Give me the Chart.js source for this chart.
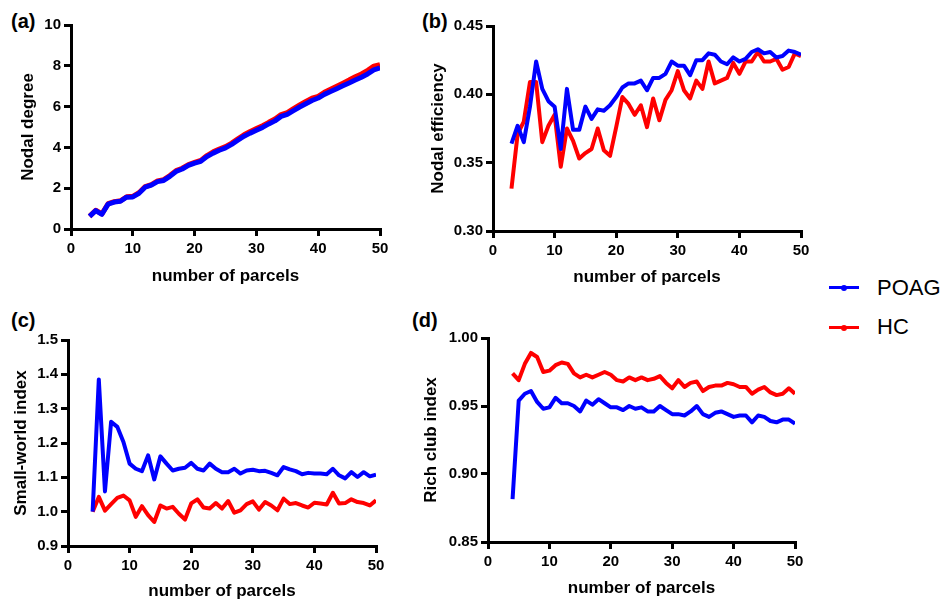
<!DOCTYPE html>
<html><head><meta charset="utf-8">
<script src="https://cdn.jsdelivr.net/npm/chart.js@4"></script>
<style>
html,body{margin:0;padding:0;background:#fff;}
body{width:947px;height:603px;position:relative;overflow:hidden;font-family:"Liberation Sans",Arial,sans-serif;}
.panel{position:absolute;}
.lbl{position:absolute;font-weight:bold;font-size:20px;line-height:20px;color:#000;white-space:nowrap;}
.leg{position:absolute;font-size:22px;line-height:22px;color:#000;white-space:nowrap;}
.legline{position:absolute;height:3px;width:30px;}
.legdot{position:absolute;width:6px;height:6px;border-radius:3px;}
</style></head><body>
<div class="lbl" style="left:11px;top:11px">(a)</div>
<div class="lbl" style="left:422px;top:11px">(b)</div>
<div class="lbl" style="left:11px;top:310px">(c)</div>
<div class="lbl" style="left:412px;top:310px">(d)</div>

<div class="legline" style="left:829px;top:286px;background:#0000ff"></div>
<div class="legdot" style="left:841px;top:285px;background:#0000ff"></div>
<div class="leg" style="left:877px;top:277px">POAG</div>
<div class="legline" style="left:829px;top:326px;background:#ff0000"></div>
<div class="legdot" style="left:841px;top:325px;background:#ff0000"></div>
<div class="leg" style="left:877px;top:316px">HC</div>

<script>
// ---------- data ----------
const parcelsAB = [3,4,5,6,7,8,9,10,11,12,13,14,15,16,17,18,19,20,21,22,23,24,25,26,27,28,29,30,31,32,33,34,35,36,37,38,39,40,41,42,43,44,45,46,47,48,49,50];
const parcelsCD = [4,5,6,7,8,9,10,11,12,13,14,15,16,17,18,19,20,21,22,23,24,25,26,27,28,29,30,31,32,33,34,35,36,37,38,39,40,41,42,43,44,45,46,47,48,49,50];

const degreePOAG = [0.62,0.90,0.72,1.22,1.32,1.36,1.56,1.57,1.75,2.05,
  2.15,2.32,2.38,2.58,2.82,2.94,3.12,3.23,3.32,3.55,
  3.72,3.86,3.98,4.15,4.35,4.55,4.70,4.84,4.98,5.15,
  5.30,5.52,5.62,5.80,5.98,6.14,6.30,6.42,6.60,6.74,
  6.88,7.02,7.16,7.30,7.44,7.60,7.80,7.90];
const degreeHC = [0.62,0.92,0.74,1.24,1.34,1.38,1.58,1.60,1.78,2.08,
  2.18,2.36,2.42,2.62,2.86,2.98,3.16,3.26,3.36,3.60,
  3.78,3.92,4.04,4.21,4.42,4.62,4.78,4.92,5.06,5.23,
  5.39,5.61,5.71,5.90,6.08,6.25,6.41,6.50,6.70,6.85,
  7.00,7.15,7.30,7.46,7.60,7.78,7.98,8.06];

const effPOAG = [0.364,0.377,0.365,0.391,0.424,0.404,0.395,0.391,0.360,0.404,
  0.374,0.374,0.391,0.382,0.389,0.388,0.392,0.398,0.405,0.408,
  0.408,0.410,0.403,0.412,0.412,0.415,0.424,0.421,0.421,0.414,
  0.425,0.425,0.430,0.429,0.424,0.422,0.427,0.424,0.426,0.431,
  0.433,0.430,0.431,0.427,0.428,0.432,0.431,0.429];
const effHC = [0.331,0.371,0.380,0.409,0.409,0.365,0.377,0.385,0.347,0.375,
  0.366,0.353,0.357,0.360,0.375,0.359,0.355,0.376,0.398,0.393,
  0.385,0.392,0.376,0.397,0.381,0.396,0.403,0.417,0.403,0.397,
  0.410,0.404,0.424,0.408,0.410,0.412,0.423,0.415,0.424,0.424,
  0.431,0.424,0.424,0.426,0.418,0.420,0.430,0.428];

const swPOAG = [1.000,1.385,1.059,1.262,1.247,1.203,1.140,1.125,1.118,1.164,
  1.094,1.161,1.140,1.120,1.125,1.128,1.142,1.125,1.120,1.140,
  1.125,1.115,1.115,1.125,1.111,1.120,1.122,1.118,1.119,1.113,
  1.106,1.130,1.123,1.118,1.109,1.113,1.111,1.111,1.109,1.125,
  1.106,1.097,1.115,1.101,1.115,1.103,1.108];
const swHC = [1.000,1.043,1.003,1.022,1.040,1.047,1.033,0.985,1.016,0.990,
  0.970,1.018,1.009,1.014,0.994,0.977,1.024,1.036,1.012,1.009,
  1.025,1.009,1.031,0.997,1.004,1.022,1.030,1.006,1.028,1.018,
  1.004,1.038,1.022,1.025,1.018,1.012,1.026,1.024,1.021,1.055,
  1.024,1.025,1.036,1.028,1.025,1.018,1.033];

const rcPOAG = [0.8815,0.954,0.959,0.961,0.953,0.948,0.949,0.956,0.952,0.952,
  0.950,0.946,0.954,0.951,0.955,0.952,0.949,0.949,0.947,0.950,
  0.948,0.949,0.946,0.946,0.950,0.947,0.944,0.944,0.943,0.946,
  0.950,0.944,0.942,0.945,0.946,0.944,0.942,0.943,0.943,0.938,
  0.943,0.942,0.939,0.938,0.940,0.940,0.937];
const rcHC = [0.974,0.969,0.981,0.989,0.986,0.975,0.976,0.980,0.982,0.981,
  0.974,0.971,0.973,0.971,0.973,0.975,0.973,0.969,0.968,0.971,
  0.969,0.971,0.969,0.970,0.972,0.967,0.963,0.969,0.964,0.967,
  0.968,0.961,0.964,0.965,0.965,0.967,0.966,0.964,0.964,0.959,
  0.962,0.964,0.960,0.958,0.959,0.963,0.959];

const xTicks = [0,10,20,30,40,50];
const degreeTicks = [0,2,4,6,8,10];
const effTicks = [0.30,0.35,0.40,0.45];
const swTicks = [0.9,1.0,1.1,1.2,1.3,1.4,1.5];
const rcTicks = [0.85,0.90,0.95,1.00];

const seriesNames = ['POAG','HC'];
const xTitle = 'number of parcels';

// ---------- drawing ----------
const FONT = '"Liberation Sans", Arial, sans-serif';
const BLUE = '#0000ff', RED = '#ff0000';

function makePanel(geo, xs, poag, hc, yTicks, yDec, yTitle, lw) {
  const left = geo.L - geo.yW;
  const top = geo.T - 20;
  const width = geo.R + 20 - left;
  const height = Math.round(geo.xTitleCy + 10) - top;
  const xAxisH = height - (geo.B - top);
  const lh = 17 * 1.2;
  const yTitlePad = geo.yTitleCx - left - lh / 2;

  const div = document.createElement('div');
  div.className = 'panel';
  div.style.left = left + 'px';
  div.style.top = top + 'px';
  div.style.width = width + 'px';
  div.style.height = height + 'px';
  const cv = document.createElement('canvas');
  cv.width = width; cv.height = height;
  cv.style.width = width + 'px'; cv.style.height = height + 'px';
  div.appendChild(cv);
  document.body.appendChild(div);

  const tickFont = {family: FONT, size: 15, weight: 'bold'};
  const titleFont = {family: FONT, size: 17, weight: 'bold'};
  const grid = {drawOnChartArea: false, drawTicks: true, tickLength: 7, lineWidth: 3, color: '#000'};
  const border = {display: true, width: 3, color: '#000'};

  new Chart(cv, {
    type: 'line',
    data: {
      datasets: [
        {label: seriesNames[0], data: xs.map((x, i) => ({x: x, y: poag[i]})), borderColor: BLUE, backgroundColor: BLUE,
         borderWidth: lw, pointRadius: 0, tension: 0, fill: false, borderJoinStyle: 'round'},
        {label: seriesNames[1], data: xs.map((x, i) => ({x: x, y: hc[i]})), borderColor: RED, backgroundColor: RED,
         borderWidth: lw, pointRadius: 0, tension: 0, fill: false, borderJoinStyle: 'round'}
      ]
    },
    options: {
      responsive: false, animation: false, devicePixelRatio: 1,
      layout: {padding: {top: 20, right: 20, left: 0, bottom: 0}},
      plugins: {legend: {display: false}, tooltip: {enabled: false}},
      scales: {
        x: {
          type: 'linear', min: xTicks[0], max: xTicks[xTicks.length - 1],
          afterBuildTicks: s => { s.ticks = xTicks.map(v => ({value: v})); },
          afterFit: s => { s.height = xAxisH; },
          ticks: {font: tickFont, color: '#000', padding: 4, maxRotation: 0, autoSkip: false, callback: v => String(v)},
          grid: grid, border: border,
          title: {display: true, text: xTitle, font: titleFont, color: '#000', padding: {top: 0, bottom: 0}}
        },
        y: {
          type: 'linear', min: yTicks[0], max: yTicks[yTicks.length - 1],
          afterBuildTicks: s => { s.ticks = yTicks.map(v => ({value: v})); },
          afterFit: s => { s.width = geo.yW; },
          ticks: {font: tickFont, color: '#000', padding: 3, autoSkip: false, callback: v => Number(v).toFixed(yDec)},
          grid: grid, border: border,
          title: {display: true, text: yTitle, font: titleFont, color: '#000', padding: {top: yTitlePad, bottom: 0}}
        }
      }
    }
  });
}

makePanel({L: 71, T: 25, R: 380, B: 229, yW: 70, xTitleCy: 277, yTitleCx: 28.5},
  parcelsAB, degreePOAG, degreeHC, degreeTicks, 0, 'Nodal degree', 5);
makePanel({L: 493, T: 26, R: 801, B: 231, yW: 70, xTitleCy: 278, yTitleCx: 438.5},
  parcelsAB, effPOAG, effHC, effTicks, 2, 'Nodal efficiency', 4);
makePanel({L: 68, T: 340, R: 376, B: 546, yW: 66, xTitleCy: 591.5, yTitleCx: 21},
  parcelsCD, swPOAG, swHC, swTicks, 1, 'Small-world index', 4);
makePanel({L: 488, T: 338, R: 795, B: 542, yW: 70, xTitleCy: 588.5, yTitleCx: 431.5},
  parcelsCD, rcPOAG, rcHC, rcTicks, 2, 'Rich club index', 4);
</script>
</body></html>
